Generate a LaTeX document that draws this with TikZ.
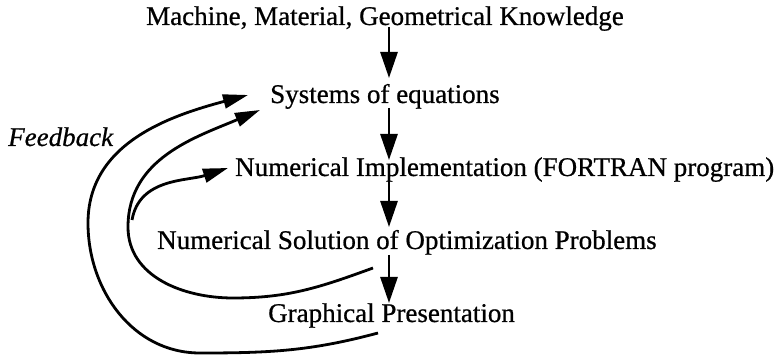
\documentclass[tikz,border=0pt]{standalone}
\usepackage{fontspec}
\setmainfont{Liberation Serif}[FakeBold=0.7]
\usetikzlibrary{arrows.meta,calc}
\begin{document}
\begin{tikzpicture}[x=1pt,y=1pt,
  lbl/.style={anchor=base west,inner sep=0pt,font=\fontsize{27}{32}\selectfont},
  down/.style={line width=2.8pt,-{Triangle[length=26pt,width=17pt]}},
  fb/.style={line width=2.8pt,-{Triangle[length=25pt,width=14pt]}}]
\useasboundingbox (0,0) rectangle (777,359);
\node[lbl] (m) at (146,334) {Machine, Material, Geometrical Knowledge};
\node[lbl] (s) at (270,256) {Systems of equations};
\node[lbl] (n) at (235,183) {Numerical Implementation (FORTRAN program)};
\node[lbl] (o) at (157,110) {Numerical Solution of Optimization Problems};
\node[lbl] (g) at (268,37) {Graphical Presentation};
\node[lbl,font=\fontsize{27}{32}\selectfont\itshape] (f) at (8,213) {Feedback};
\coordinate (col) at (389,0);
\draw[down] ($(m.base -| col)+(0,-2)$) -- ($(s.base -| col)+(0,25)$);
\draw[down] ($(s.base -| col)+(0,-5)$) -- ($(n.base -| col)+(0,16)$);
\draw[down] ($(n.base -| col)+(0,-2)$) -- ($(o.base -| col)+(0,22)$);
\draw[down] ($(o.base -| col)+(0,-6)$) -- ($(g.base -| col)+(0,19)$);
% feedback curves
\coordinate (a0) at (378,26);
\coordinate (b0) at (373,91);
\coordinate (c0) at (132,139);
\coordinate (a1) at (248,264);
\coordinate (b1) at (260,249);
\coordinate (c1) at (228,191);
\draw[fb] (a0) to[out=195,in=0] (200,6) to[out=180,in=270] (88,136) to[out=90,in=195] (a1);
\draw[fb] (b0) to[out=200,in=0] (233,61) to[out=180,in=270] (128,132) to[out=90,in=203] (b1);
\draw[fb] (c0) to[out=80,in=198] (c1);
\end{tikzpicture}
\end{document}
